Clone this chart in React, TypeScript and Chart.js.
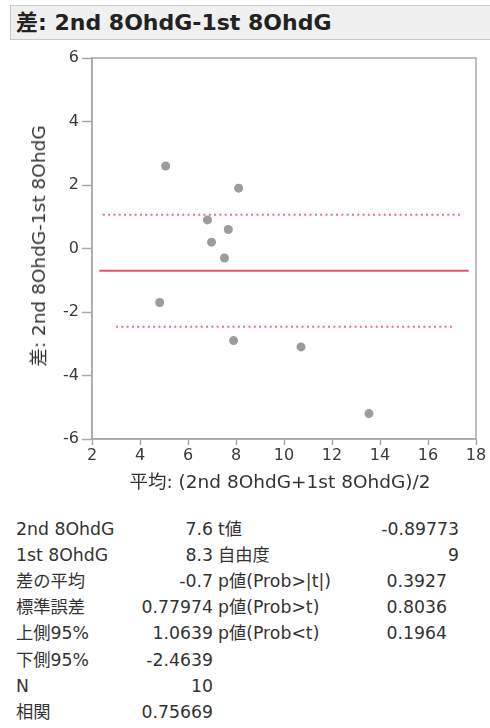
import React, { useEffect, useRef } from "react";
import { Chart, registerables } from "chart.js";

Chart.register(...registerables);

const TITLE = "差: 2nd 8OhdG-1st 8OhdG";
const Y_TITLE = "差: 2nd 8OhdG-1st 8OhdG";
const X_TITLE = "平均: (2nd 8OhdG+1st 8OhdG)/2";

// Mean of the two measurements (x) and difference (y) per subject
const meanValues = [5.07, 8.11, 6.81, 7.68, 6.98, 7.52, 4.82, 7.9, 10.71, 13.54];
const diffValues = [2.6, 1.9, 0.9, 0.6, 0.2, -0.3, -1.7, -2.9, -3.1, -5.2];

// Reference lines: mean difference and 95% limits
const meanDiff = -0.7;
const upper95 = 1.0639;
const lower95 = -2.4639;
const meanLineX = [2.3, 17.7];
const upperLineX = [2.45, 17.45];
const lowerLineX = [3.0, 17.0];

const X_MIN = 2;
const X_MAX = 18;
const Y_MIN = -6;
const Y_MAX = 6;
const TICK_STEP = 2;

// Summary table
const leftLabels = ["2nd 8OhdG", "1st 8OhdG", "差の平均", "標準誤差", "上側95%", "下側95%", "N", "相関"];
const leftValues = ["7.6", "8.3", "-0.7", "0.77974", "1.0639", "-2.4639", "10", "0.75669"];
const rightLabels = ["t値", "自由度", "p値(Prob>|t|)", "p値(Prob>t)", "p値(Prob<t)"];
const rightValues = ["-0.89773", "9", "0.3927", "0.8036", "0.1964"];
const rightValueIsPValue = [false, false, true, true, true];

const FONT = "'DejaVu Sans', 'Noto Sans CJK JP', sans-serif";
const RED = "#e8506e";
const PINK = "#ee6a84";
const AXIS_GRAY = "#a8a8a8";

const framePlugin = {
  id: "frame",
  beforeDatasetsDraw(chart: any) {
    const { ctx, chartArea } = chart;
    ctx.save();
    ctx.strokeStyle = AXIS_GRAY;
    ctx.lineWidth = 1.5;
    ctx.strokeRect(chartArea.left, chartArea.top, chartArea.right - chartArea.left, chartArea.bottom - chartArea.top);
    ctx.restore();
  },
};

function BlandAltman() {
  const ref = useRef<HTMLCanvasElement | null>(null);
  useEffect(() => {
    if (!ref.current) return;
    const points = meanValues.map((x, i) => ({ x, y: diffValues[i] }));
    const chart = new Chart(ref.current, {
      type: "scatter",
      data: {
        datasets: [
          {
            label: "mean",
            data: meanLineX.map((x) => ({ x, y: meanDiff })),
            showLine: true,
            pointRadius: 0,
            borderColor: RED,
            borderWidth: 2,
          },
          {
            label: "upper",
            data: upperLineX.map((x) => ({ x, y: upper95 })),
            showLine: true,
            pointRadius: 0,
            borderColor: PINK,
            borderWidth: 2,
            borderDash: [2, 3.3],
          },
          {
            label: "lower",
            data: lowerLineX.map((x) => ({ x, y: lower95 })),
            showLine: true,
            pointRadius: 0,
            borderColor: PINK,
            borderWidth: 2,
            borderDash: [2, 3.3],
          },
          {
            label: "diff",
            data: points,
            pointRadius: 4.5,
            pointBackgroundColor: "#9c9c9c",
            pointBorderWidth: 0,
            borderWidth: 0,
          },
        ],
      },
      options: {
        animation: false,
        responsive: true,
        maintainAspectRatio: false,
        layout: { padding: { top: 13, right: 14, left: 0, bottom: 0 } },
        plugins: { legend: { display: false }, tooltip: { enabled: false } },
        scales: {
          x: {
            type: "linear",
            min: X_MIN,
            max: X_MAX,
            afterFit: (s: any) => {
              s.height = 61;
            },
            ticks: { stepSize: TICK_STEP, color: "#3a3a3a", font: { family: FONT, size: 16 }, padding: 1, maxRotation: 0 },
            grid: { drawOnChartArea: false, drawTicks: true, tickLength: 6, color: AXIS_GRAY, tickWidth: 1.5 },
            border: { display: true, color: AXIS_GRAY, width: 1.5 },
          },
          y: {
            type: "linear",
            min: Y_MIN,
            max: Y_MAX,
            afterFit: (s: any) => {
              s.width = 92;
            },
            ticks: { stepSize: TICK_STEP, color: "#3a3a3a", font: { family: FONT, size: 16 }, padding: 3 },
            grid: { drawOnChartArea: false, drawTicks: true, tickLength: 10, color: AXIS_GRAY, tickWidth: 1.5 },
            border: { display: true, color: AXIS_GRAY, width: 1.5 },
          },
        },
      },
      plugins: [framePlugin],
    } as any);
    return () => chart.destroy();
  }, []);
  return <canvas ref={ref} />;
}

export default function App() {
  const rowH = 26.1;
  const top0 = 516;
  return (
    <div style={{ position: "absolute", left: 0, top: 0, width: 490, height: 728, background: "#fff", fontFamily: FONT, overflow: "hidden" }}>
      <div
        style={{
          position: "absolute",
          left: 10,
          top: 5,
          width: 482,
          height: 35,
          background: "#f0f0f0",
          border: "1px solid #c8c8c8",
          boxSizing: "border-box",
        }}
      />
      <div style={{ position: "absolute", left: 16, top: 5, height: 36, lineHeight: "36px", fontSize: 22, fontWeight: "bold", color: "#222", whiteSpace: "nowrap" }}>
        {TITLE}
      </div>
      <div style={{ position: "absolute", left: 0, top: 45, width: 490, height: 455 }}>
        <BlandAltman />
      </div>
      <div
        style={{
          position: "absolute",
          left: 37,
          top: 246,
          transform: "translate(-50%, -50%) rotate(-90deg)",
          fontSize: 18.5,
          color: "#333",
          whiteSpace: "nowrap",
        }}
      >
        {Y_TITLE}
      </div>
      <div
        style={{
          position: "absolute",
          left: 280,
          top: 480,
          transform: "translate(-50%, -50%)",
          fontSize: 18.5,
          color: "#333",
          whiteSpace: "nowrap",
        }}
      >
        {X_TITLE}
      </div>
      {leftLabels.map((lab, i) => (
        <React.Fragment key={"l" + i}>
          <div style={{ position: "absolute", left: 16, top: top0 + i * rowH, lineHeight: "26px", fontSize: 17.3, color: "#333", whiteSpace: "nowrap" }}>{lab}</div>
          <div style={{ position: "absolute", right: 490 - 213, top: top0 + i * rowH, lineHeight: "26px", fontSize: 17.3, color: "#333", whiteSpace: "nowrap" }}>{leftValues[i]}</div>
        </React.Fragment>
      ))}
      {rightLabels.map((lab, i) => (
        <React.Fragment key={"r" + i}>
          <div style={{ position: "absolute", left: 218, top: top0 + i * rowH, lineHeight: "26px", fontSize: 17.3, color: "#333", whiteSpace: "nowrap" }}>{lab}</div>
          <div
            style={{
              position: "absolute",
              right: 490 - (rightValueIsPValue[i] ? 447 : 459),
              top: top0 + i * rowH,
              lineHeight: "26px",
              fontSize: 17.3,
              color: "#333",
              whiteSpace: "nowrap",
            }}
          >
            {rightValues[i]}
          </div>
        </React.Fragment>
      ))}
    </div>
  );
}
